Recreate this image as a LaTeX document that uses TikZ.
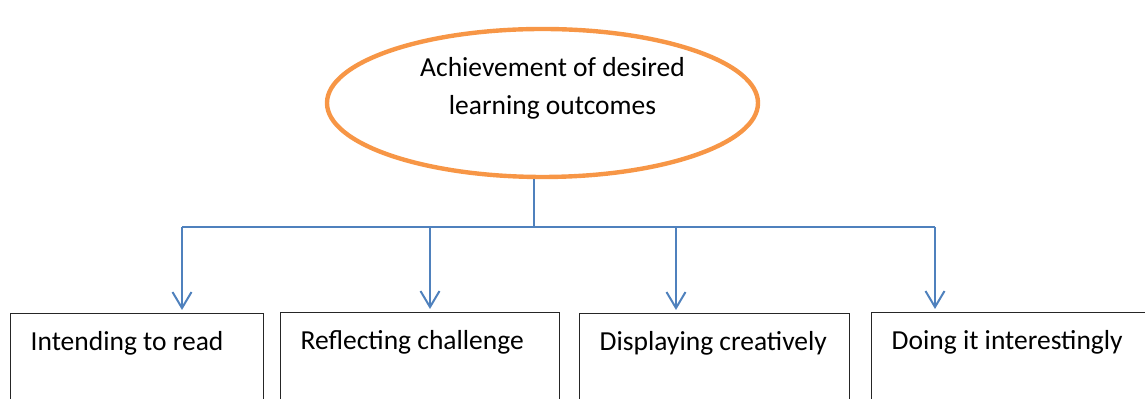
\documentclass[tikz,border=0pt]{standalone}
\usepackage{fontspec}
\setmainfont{Carlito}
\usetikzlibrary{shapes.geometric,arrows.meta}

\definecolor{ringorange}{HTML}{F79646}
\definecolor{linkblue}{HTML}{4F81BD}

\begin{document}
\begin{tikzpicture}[x=0.5pt,y=-0.5pt,
	font=\fontsize{13.75pt}{19pt}\selectfont,
	goalring/.style={ellipse, draw=ringorange, line width=2.2pt, inner sep=0pt,
		minimum width=215.5pt, minimum height=74pt},
	outcome/.style={draw=black!85, line width=0.7pt, anchor=north west, inner sep=0pt,
		text height=18.5pt, text depth=45pt, align=flush left,
		execute at begin node=\hspace*{10pt}},
	link/.style={draw=linkblue, line width=1pt},
	flow/.style={link, -{Straight Barb[length=8pt,width=9.5pt]}, shorten >=1.5pt}]
	\clip (0,0) rectangle (1145,399);

	% top goal
	\node [goalring, label={[xshift=5pt, yshift=7.25pt, align=center]center:Achievement of desired\\learning outcomes}] (goal) at (542.5,103) {};

	% the four outcomes
	\node [outcome, text width=126.5pt] (read) at (10,313) {Intending to read};
	\node [outcome, text width=139.5pt] (reflect) at (280,312) {Reflecting challenge};
	\node [outcome, text width=135pt] (display) at (579,313) {Displaying creatively};
	\node [outcome, text width=150pt] (doing) at (871,312) {Doing it interestingly};

	% connectors
	\coordinate (hub) at (534,227);
	\coordinate (t1) at (182,227);
	\coordinate (t2) at (430,227);
	\coordinate (t3) at (676,227);
	\coordinate (t4) at (935,227);
	\draw [link] (hub |- goal.south) -- (hub);
	\draw [link] (t1) -- (t4);
	\draw [flow] (t1) -- (t1 |- read.north);
	\draw [flow] (t2) -- (t2 |- reflect.north);
	\draw [flow] (t3) -- (t3 |- display.north);
	\draw [flow] (t4) -- (t4 |- doing.north);
\end{tikzpicture}
\end{document}
